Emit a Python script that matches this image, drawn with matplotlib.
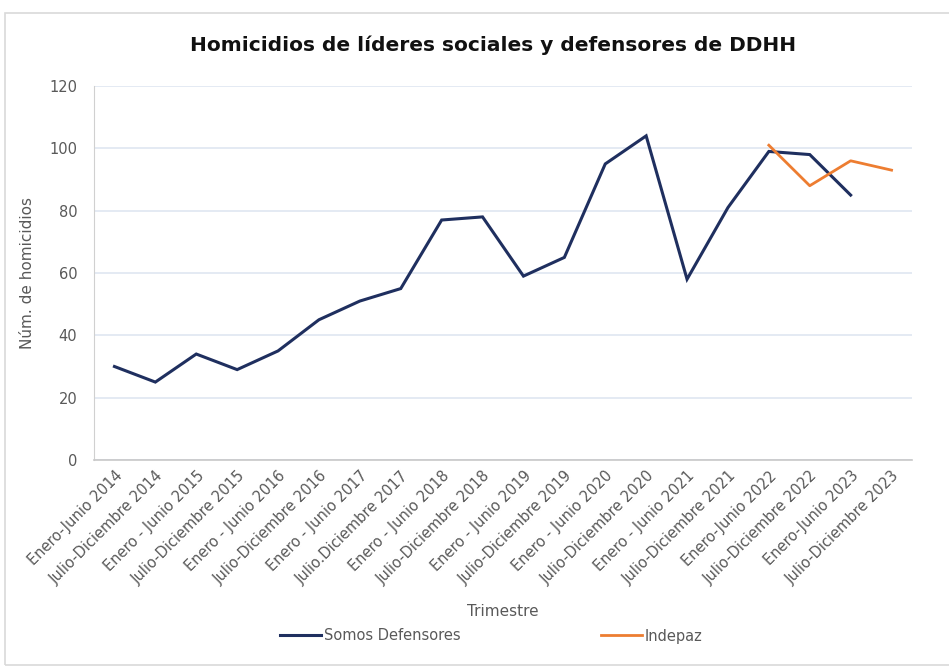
import matplotlib
matplotlib.use("Agg")
import matplotlib.pyplot as plt
from matplotlib.patches import Rectangle

categories = ["Enero-Junio 2014", "Julio-Diciembre 2014", "Enero - Junio 2015",
              "Julio-Diciembre 2015", "Enero - Junio 2016", "Julio-Diciembre 2016",
              "Enero - Junio 2017", "Julio.Diciembre 2017", "Enero - Junio 2018",
              "Julio-Diciembre 2018", "Enero - Junio 2019", "Julio-Diciembre 2019",
              "Enero - Junio 2020", "Julio-Diciembre 2020", "Enero - Junio 2021",
              "Julio-Diciembre 2021", "Enero-Junio 2022", "Julio-Diciembre 2022",
              "Enero-Junio 2023", "Julio-Diciembre 2023"]
somos = [30, 25, 34, 29, 35, 45, 51, 55, 77, 78, 59, 65, 95, 104, 58, 81, 99, 98, 85, None]
indepaz = [None] * 16 + [101, 88, 96, 93]
yticks = [0, 20, 40, 60, 80, 100, 120]

fig = plt.figure(figsize=(9.49, 6.67), dpi=100)
ax = fig.add_axes([94/949, 1 - 460/667, 818/949, 374/667])

x = list(range(len(categories)))
sx = [i for i, v in zip(x, somos) if v is not None]
sv = [v for v in somos if v is not None]
ix = [i for i, v in zip(x, indepaz) if v is not None]
iv = [v for v in indepaz if v is not None]
l1, = ax.plot(sx, sv, color="#1f2f5f", lw=2.2, label="Somos Defensores", solid_joinstyle="miter")
l2, = ax.plot(ix, iv, color="#ed7d31", lw=2.0, label="Indepaz")

ax.set_xlim(-0.5, len(categories) - 0.5)
ax.set_ylim(0, 120)
ax.set_yticks(yticks)
ax.grid(axis="y", color="#dfe6f1", lw=1.2)
ax.set_axisbelow(True)
for s in ["top", "right"]:
    ax.spines[s].set_visible(False)
ax.spines["left"].set_color("#d0d0d0")
ax.spines["bottom"].set_color("#c8c8c8")
ax.spines["bottom"].set_linewidth(1.2)
ax.set_xticks(x)
ax.set_xticklabels(categories, rotation=45, ha="right", rotation_mode="anchor",
                   fontsize=10.5, color="#595959")
ax.tick_params(axis="both", length=0, pad=6)
ax.tick_params(axis="y", labelsize=10.5, labelcolor="#595959", pad=12)
ax.set_ylabel("Núm. de homicidios", fontsize=11, color="#595959", labelpad=10)
fig.text(0.5 * (94 + 912) / 949, 1 - 611/667, "Trimestre", ha="center", va="center",
         fontsize=11, color="#595959")

fig.text(0.5 * (94 + 912) / 949 - 0.01, 1 - 45/667, "Homicidios de líderes sociales y defensores de DDHH",
         ha="center", va="center", fontsize=14.5, fontweight="bold", color="#111111")

leg1 = fig.legend(handles=[l1], loc="center", bbox_to_anchor=(370/949, 1 - 636/667),
                  frameon=False, fontsize=10.5, handlelength=2.8, handletextpad=0.2)
leg2 = fig.legend(handles=[l2], loc="center", bbox_to_anchor=(652/949, 1 - 636/667),
                  frameon=False, fontsize=10.5, handlelength=2.8, handletextpad=0.2)
for lg in (leg1, leg2):
    for t in lg.get_texts():
        t.set_color("#595959")

fig.patches.append(Rectangle((5/949, 0.003), 1.2, 1 - 13/667 - 0.003, transform=fig.transFigure,
                             fill=False, edgecolor="#d9d9d9", lw=1.2))

fig.savefig("out.png", dpi=100)
